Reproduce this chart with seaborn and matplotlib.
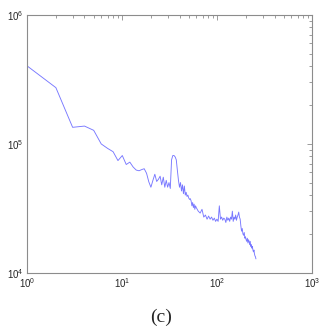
import matplotlib
matplotlib.use("Agg")
import matplotlib.pyplot as plt
import seaborn as sns
import pandas as pd
from matplotlib.ticker import LogLocator

freq = [1, 2, 3, 4, 5, 6, 7, 8, 9, 10,
        11, 12, 13, 14, 15, 16, 17, 18, 19, 20,
        21, 22, 23, 24, 25, 26, 27, 28, 29, 30,
        31, 32, 33, 34, 35, 36, 37, 38, 39, 40,
        41, 42, 43, 44, 45, 46, 47, 48, 49, 50,
        51, 52, 53, 54, 55, 56, 57, 58, 59, 60,
        63, 66, 69, 72, 75, 78, 81, 84, 87, 90,
        93, 96, 99, 102, 105, 108, 111, 114, 117, 120,
        123, 126, 129, 132, 135, 138, 141, 144, 147, 150,
        153, 156, 159, 162, 165, 168, 171, 174, 177, 180,
        183, 186, 189, 192, 195, 198, 201, 204, 207, 210,
        213, 216, 219, 222, 225, 228, 231, 234, 237, 240,
        243, 246, 249, 252, 255]
power = [4.0e5, 2.72e5, 1.34e5, 1.37e5, 1.27e5, 9.96e4, 9.2e4, 8.67e4, 7.4e4, 8.1e4,
         6.9e4, 7.2e4, 6.6e4, 6.25e4, 6.17e4, 6.3e4, 6.4e4, 5.9e4, 5.07e4, 4.6e4,
         5.2e4, 5.8e4, 5.1e4, 5.3e4, 5.6e4, 4.8e4, 5.5e4, 4.6e4, 5.2e4, 4.6e4,
         5.0e4, 4.5e4, 7.5e4, 8.1e4, 8.1e4, 7.9e4, 7.5e4, 6.2e4, 5.2e4, 4.6e4,
         5.0e4, 4.3e4, 4.8e4, 4.1e4, 4.7e4, 4.0e4, 4.2e4, 3.9e4, 4.0e4, 3.8e4,
         3.7e4, 3.75e4, 3.6e4, 3.3e4, 3.5e4, 3.2e4, 3.4e4, 3.1e4, 3.3e4, 3.2e4,
         3.0e4, 2.9e4, 3.1e4, 2.7e4, 2.8e4, 2.6e4, 2.75e4, 2.6e4, 2.7e4, 2.55e4,
         2.65e4, 2.5e4, 2.6e4, 2.5e4, 3.3e4, 2.6e4, 2.7e4, 2.55e4, 2.65e4, 2.6e4,
         2.45e4, 2.7e4, 2.55e4, 2.65e4, 2.5e4, 2.7e4, 2.6e4, 3.0e4, 2.5e4, 2.7e4,
         2.6e4, 2.8e4, 2.55e4, 2.7e4, 2.8e4, 2.95e4, 2.7e4, 2.6e4, 2.3e4, 2.1e4,
         2.2e4, 2.0e4, 1.95e4, 2.05e4, 1.85e4, 1.9e4, 1.8e4, 1.75e4, 1.85e4, 1.7e4,
         1.8e4, 1.75e4, 1.65e4, 1.75e4, 1.6e4, 1.65e4, 1.55e4, 1.6e4, 1.5e4, 1.45e4,
         1.5e4, 1.4e4, 1.35e4, 1.33e4, 1.28e4]
caption = "(c)"

sns.set_style("white")
plt.rcParams["font.family"] = ["Liberation Sans", "DejaVu Sans"]
plt.rcParams["mathtext.fontset"] = "custom"
plt.rcParams["mathtext.rm"] = "Liberation Sans"
plt.rcParams["mathtext.it"] = "Liberation Sans"
plt.rcParams["mathtext.bf"] = "Liberation Sans"

df = pd.DataFrame({"freq": freq, "power": power})

fig = plt.figure(figsize=(3.28, 3.27), dpi=100)
ax = fig.add_axes([0.0832, 0.166, 0.869, 0.789])
sns.lineplot(data=df, x="freq", y="power", ax=ax, color="#7878ff",
             linewidth=0.65, estimator=None, sort=False)
ax.set_xscale("log")
ax.set_yscale("log")
ax.set_xlim(1, 1000)
ax.set_ylim(1e4, 1e6)
ax.set_xlabel("")
ax.set_ylabel("")
ax.xaxis.set_major_locator(LogLocator(base=10, numticks=10))
ax.yaxis.set_major_locator(LogLocator(base=10, numticks=10))
ax.xaxis.set_minor_locator(LogLocator(base=10, subs=range(2, 10), numticks=20))
ax.yaxis.set_minor_locator(LogLocator(base=10, subs=range(2, 10), numticks=20))
for s in ax.spines.values():
    s.set_color("#8c8c8c")
    s.set_linewidth(0.8)
ax.tick_params(which="both", direction="in", top=True, right=True,
               color="#8c8c8c", width=0.6)
ax.tick_params(which="major", length=3.5, labelsize=7, pad=2.5)
ax.tick_params(which="minor", length=2)
ax.grid(False)

fig.text(0.49, 0.03, caption, ha="center", va="center", fontsize=14,
         family="Liberation Serif")

fig.savefig("out.png", dpi=100)
